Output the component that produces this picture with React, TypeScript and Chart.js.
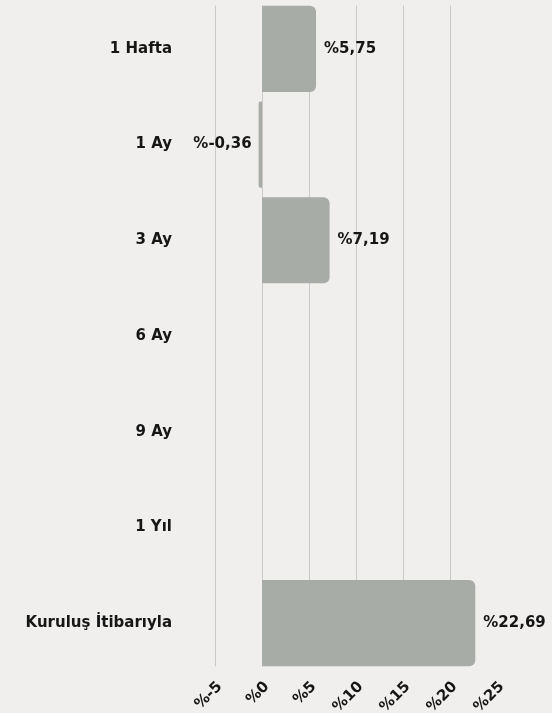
import React, { useEffect, useRef } from "react";
import { Chart, registerables } from "chart.js";

Chart.register(...registerables);

const categories = ["1 Hafta", "1 Ay", "3 Ay", "6 Ay", "9 Ay", "1 Yıl", "Kuruluş İtibarıyla"];
const returns: (number | null)[] = [5.75, -0.36, 7.19, null, null, null, 22.69];
const xMin = -5;
const xMax = 25;
const xStep = 5;

const FONT = "'DejaVu Sans', sans-serif";
const TEXT = "#161616";
const BAR = "#a8aca6";
const GRID = "#c9c9c8";
const BG = "#f0efed";

const fmtValue = (v: number) => "%" + v.toFixed(2).replace(".", ",");
const fmtTick = (v: number) => "%" + String(v);

const gridPlugin = {
  id: "customGrid",
  beforeDatasetsDraw(chart: any) {
    const { ctx, scales } = chart;
    const xs = scales.x;
    const meta = chart.getDatasetMeta(0);
    const first = meta.data[0];
    const last = meta.data[meta.data.length - 1];
    const top = first.y - first.height / 2;
    const bottom = last.y + last.height / 2;
    ctx.save();
    ctx.strokeStyle = GRID;
    ctx.lineWidth = 1;
    xs.ticks.forEach((t: any) => {
      if (t.value >= xMax) return;
      const px = Math.round(xs.getPixelForValue(t.value)) + 0.5;
      ctx.beginPath();
      ctx.moveTo(px, top);
      ctx.lineTo(px, bottom);
      ctx.stroke();
    });
    ctx.restore();
  },
};

const labelPlugin = {
  id: "valueLabels",
  afterDatasetsDraw(chart: any) {
    const { ctx } = chart;
    const meta = chart.getDatasetMeta(0);
    ctx.save();
    ctx.font = `bold 15px ${FONT}`;
    ctx.fillStyle = TEXT;
    ctx.textBaseline = "middle";
    meta.data.forEach((el: any, i: number) => {
      const v = returns[i];
      if (v === null || v === undefined) return;
      if (v >= 0) {
        ctx.textAlign = "left";
        ctx.fillText(fmtValue(v), el.x + 8, el.y);
      } else {
        ctx.textAlign = "right";
        ctx.fillText(fmtValue(v), el.x - 7, el.y);
      }
    });
    ctx.restore();
  },
};

export default function App() {
  const canvasRef = useRef<HTMLCanvasElement | null>(null);

  useEffect(() => {
    document.body.style.background = BG;
    const canvas = canvasRef.current;
    if (!canvas) return;
    const chart = new Chart(canvas, {
      type: "bar",
      data: {
        labels: categories,
        datasets: [
          {
            data: returns as any,
            backgroundColor: BAR,
            borderRadius: 6,
            borderSkipped: "start",
            categoryPercentage: 1,
            barPercentage: 0.9,
          },
        ],
      },
      options: {
        indexAxis: "y",
        animation: false,
        responsive: true,
        maintainAspectRatio: false,
        layout: { padding: { top: 1, right: 55, left: 0, bottom: 0 } },
        plugins: {
          legend: { display: false },
          tooltip: { enabled: false },
          title: { display: false },
        },
        scales: {
          x: {
            type: "linear",
            min: xMin,
            max: xMax,
            grid: { display: false, drawTicks: false },
            border: { display: false },
            ticks: {
              stepSize: xStep,
              minRotation: 45,
              maxRotation: 45,
              padding: 7,
              labelOffset: 5,
              color: TEXT,
              font: { family: FONT, weight: "bold", size: 15 },
              callback: (v: any) => fmtTick(Number(v)),
            },
            afterFit: (s: any) => {
              s.height = 42;
              s.paddingLeft = 0;
              s.paddingRight = 0;
            },
          },
          y: {
            grid: { display: false, drawTicks: false },
            border: { display: false },
            ticks: {
              padding: 43,
              color: TEXT,
              font: { family: FONT, weight: "bold", size: 15 },
            },
            afterFit: (s: any) => {
              s.width = 215;
              s.paddingTop = 0;
              s.paddingBottom = 0;
            },
          },
        },
      },
      plugins: [gridPlugin, labelPlugin],
    });
    return () => chart.destroy();
  }, []);

  return (
    <div
      style={{
        position: "absolute",
        left: 0,
        top: 0,
        width: 552,
        height: 713,
        background: BG,
      }}
    >
      <canvas ref={canvasRef} />
    </div>
  );
}
